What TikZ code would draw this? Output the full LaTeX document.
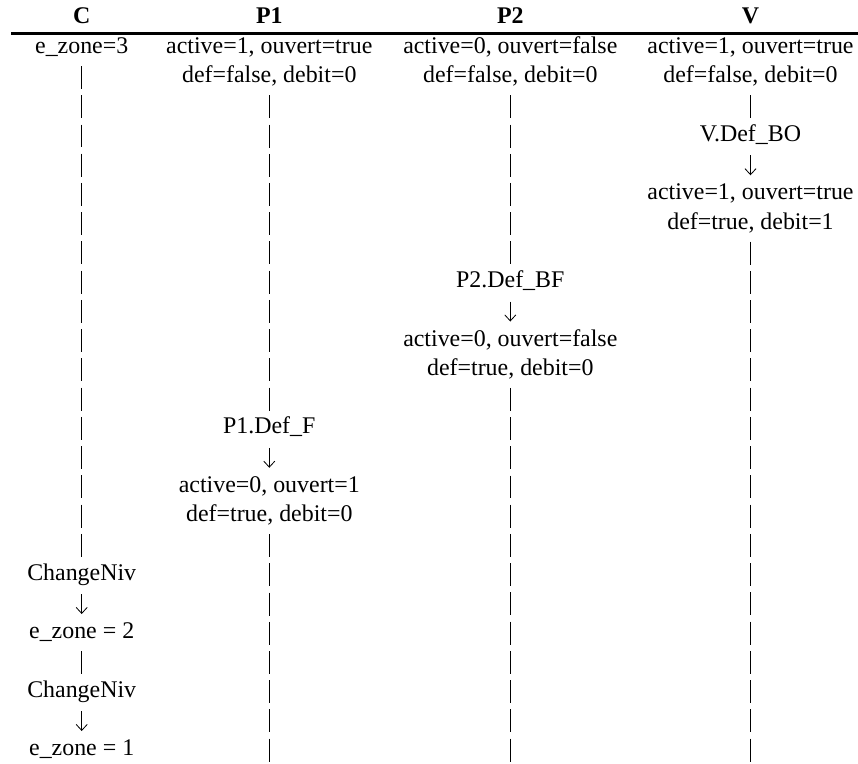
\documentclass[tikz,border=0pt]{standalone}
\usepackage{fontspec}
\setmainfont{Liberation Serif}
\usetikzlibrary{calc,arrows.meta}

\begin{document}
\begin{tikzpicture}[x=0.4958pt,y=-0.4958pt,
  lbl/.style={anchor=base,inner sep=0pt,font=\fontsize{11.85}{14.5}\selectfont},
  head/.style={lbl,font=\fontsize{11.85}{14.5}\selectfont\bfseries},
  lifeline/.style={line width=0.5pt,dash pattern=on 11.4pt off 3.1pt},
  evarrow/.style={line width=0.4pt,-{Straight Barb[length=3pt,width=5.5pt]}}]
\useasboundingbox (0,0) rectangle (858,763);

% column centres and row baselines
\def\xC{81.7}\def\xPa{269.3}\def\xPb{510.3}\def\xV{750.5}
\def\rowy#1{{53.5+29.25*#1}}

% header
\node[head] (hC) at (\xC,23) {C};
\node[head] (hP1) at (\xPa,23) {P1};
\node[head] (hP2) at (\xPb,23) {P2};
\node[head] (hV) at (\xV,23) {V};
\coordinate (ruleL) at (11,33.5);
\coordinate (ruleR) at (858,33.5);
\draw[line width=1.5pt] (ruleL) -- (ruleR);

% bottom ends of the lifelines
\coordinate (bP1) at (\xPa,761.75);
\coordinate (bP2) at (\xPb,761.75);
\coordinate (bV) at (\xV,761.75);

% C
\node[lbl] (c0) at (\xC,\rowy{0}) {e\_zone=3};
\node[lbl] (c18) at (\xC,\rowy{18}) {ChangeNiv};
\node[lbl] (c20) at (\xC,\rowy{20}) {e\_zone = 2};
\node[lbl] (c22) at (\xC,\rowy{22}) {ChangeNiv};
\node[lbl] (c24) at (\xC,\rowy{24}) {e\_zone = 1};

% P1
\node[lbl] (p1a) at (\xPa,\rowy{0}) {active=1, ouvert=true};
\node[lbl] (p1b) at (\xPa,\rowy{1}) {def=false, debit=0};
\node[lbl] (p1e) at (\xPa,\rowy{13}) {P1.Def\_F};
\node[lbl] (p1c) at (\xPa,\rowy{15}) {active=0, ouvert=1};
\node[lbl] (p1d) at (\xPa,\rowy{16}) {def=true, debit=0};

% P2
\node[lbl] (p2a) at (\xPb,\rowy{0}) {active=0, ouvert=false};
\node[lbl] (p2b) at (\xPb,\rowy{1}) {def=false, debit=0};
\node[lbl] (p2e) at (\xPb,\rowy{8}) {P2.Def\_BF};
\node[lbl] (p2c) at (\xPb,\rowy{10}) {active=0, ouvert=false};
\node[lbl] (p2d) at (\xPb,\rowy{11}) {def=true, debit=0};

% V
\node[lbl] (va) at (\xV,\rowy{0}) {active=1, ouvert=true};
\node[lbl] (vb) at (\xV,\rowy{1}) {def=false, debit=0};
\node[lbl] (ve) at (\xV,\rowy{3}) {V.Def\_BO};
\node[lbl] (vc) at (\xV,\rowy{5}) {active=1, ouvert=true};
\node[lbl] (vd) at (\xV,\rowy{6}) {def=true, debit=1};

% lifelines
\draw[lifeline] ($(c0.base)+(0,12.5)$) -- ($(c18.base)+(0,-23)$);
\draw[lifeline] ($(c20.base)+(0,12.5)$) -- ($(c22.base)+(0,-23)$);
\draw[lifeline] ($(p1b.base)+(0,12.5)$) -- ($(p1e.base)+(0,-23)$);
\draw[lifeline] ($(p1d.base)+(0,12.5)$) -- (bP1);
\draw[lifeline] ($(p2b.base)+(0,12.5)$) -- ($(p2e.base)+(0,-23)$);
\draw[lifeline] ($(p2d.base)+(0,12.5)$) -- (bP2);
\draw[lifeline] ($(vb.base)+(0,12.5)$) -- ($(ve.base)+(0,-23)$);
\draw[lifeline] ($(vd.base)+(0,12.5)$) -- (bV);

% events
\draw[evarrow] ($(c18.base)+(0,14)$) -- ($(c20.base)+(0,-24.5)$);
\draw[evarrow] ($(c22.base)+(0,14)$) -- ($(c24.base)+(0,-24.5)$);
\draw[evarrow] ($(p1e.base)+(0,14)$) -- ($(p1c.base)+(0,-24.5)$);
\draw[evarrow] ($(p2e.base)+(0,14)$) -- ($(p2c.base)+(0,-24.5)$);
\draw[evarrow] ($(ve.base)+(0,14)$) -- ($(vc.base)+(0,-24.5)$);
\end{tikzpicture}
\end{document}
